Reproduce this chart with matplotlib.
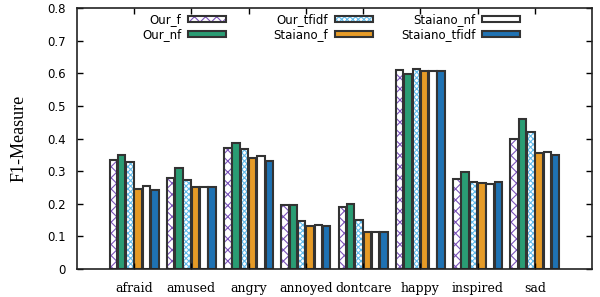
import numpy as np
import matplotlib
matplotlib.use("Agg")
import matplotlib.pyplot as plt
from matplotlib.legend_handler import HandlerTuple

categories = ["afraid", "amused", "angry", "annoyed", "dontcare", "happy", "inspired", "sad"]
series = ["Our_f", "Our_nf", "Our_tfidf", "Staiano_f", "Staiano_nf", "Staiano_tfidf"]

our_f = [0.333, 0.278, 0.370, 0.196, 0.190, 0.610, 0.275, 0.400]
our_nf = [0.350, 0.311, 0.386, 0.196, 0.198, 0.598, 0.298, 0.461]
our_tfidf = [0.327, 0.274, 0.367, 0.146, 0.151, 0.614, 0.268, 0.419]
staiano_f = [0.244, 0.253, 0.340, 0.133, 0.113, 0.608, 0.265, 0.357]
staiano_nf = [0.254, 0.251, 0.345, 0.135, 0.115, 0.608, 0.261, 0.360]
staiano_tfidf = [0.242, 0.252, 0.331, 0.131, 0.113, 0.608, 0.266, 0.350]

values = [our_f, our_nf, our_tfidf, staiano_f, staiano_nf, staiano_tfidf]

# (face, hatch, hatch colour)
styles = [
    ("white", "xxx", "#7b52b9"),
    ("#2a9d74", None, None),
    ("white", "xxxxxx", "#62bbeb"),
    ("#e69b27", None, None),
    ("white", None, None),
    ("#1f72b3", None, None),
]
edge = "#333333"

plt.rcParams["hatch.linewidth"] = 0.8

fig = plt.figure(figsize=(6, 2.97), dpi=100)
ax = fig.add_axes([0.128, 0.094, 0.859, 0.879])

x = np.arange(1, len(categories) + 1)
pitch = 0.145
width = 0.13
handles = []
for i, (vals, (fc, hatch, hc)) in enumerate(zip(values, styles)):
    pos = x + (i - 2.5) * pitch
    if hatch:
        b1 = ax.bar(pos, vals, width, color=fc, hatch=hatch, edgecolor=hc, linewidth=0)
        b2 = ax.bar(pos, vals, width, fill=False, edgecolor=edge, linewidth=1.5)
        handles.append((b1[0], b2[0]))
    else:
        b = ax.bar(pos, vals, width, color=fc, edgecolor=edge, linewidth=1.5)
        handles.append(b[0])

ax.set_xlim(0, 9)
ax.set_ylim(0, 0.8)
ax.set_xticks(x)
ax.set_xticklabels(categories, family="DejaVu Serif", fontsize=9)
ax.set_yticks(np.arange(0, 0.81, 0.1))
ax.set_yticklabels(["0"] + [f"{v:.1f}" for v in np.arange(0.1, 0.81, 0.1)], fontsize=8.5)
ax.tick_params(direction="in", top=True, right=True, length=4, width=1, pad=8)
ax.tick_params(axis="x", pad=9)
for s in ax.spines.values():
    s.set_linewidth(1.2)
    s.set_color("#222222")
ax.set_ylabel("F1-Measure", family="Liberation Serif", fontsize=13, labelpad=14)

# gnuplot-style key: three equal columns, text right-aligned before the sample
col_right = [224, 371, 518]
for c in range(3):
    lx = (col_right[c] + 2) / 600
    ly = (297 - 13) / 297
    leg = fig.legend(handles[2 * c:2 * c + 2], series[2 * c:2 * c + 2],
                     markerfirst=False, frameon=False,
                     handler_map={tuple: HandlerTuple(ndivide=1)},
                     loc="upper right", bbox_to_anchor=(lx, ly),
                     borderpad=0, borderaxespad=0,
                     fontsize=8.5, handlelength=3.2, handleheight=0.45,
                     labelspacing=0.2, handletextpad=0.6)

fig.savefig("out.png", dpi=100)
